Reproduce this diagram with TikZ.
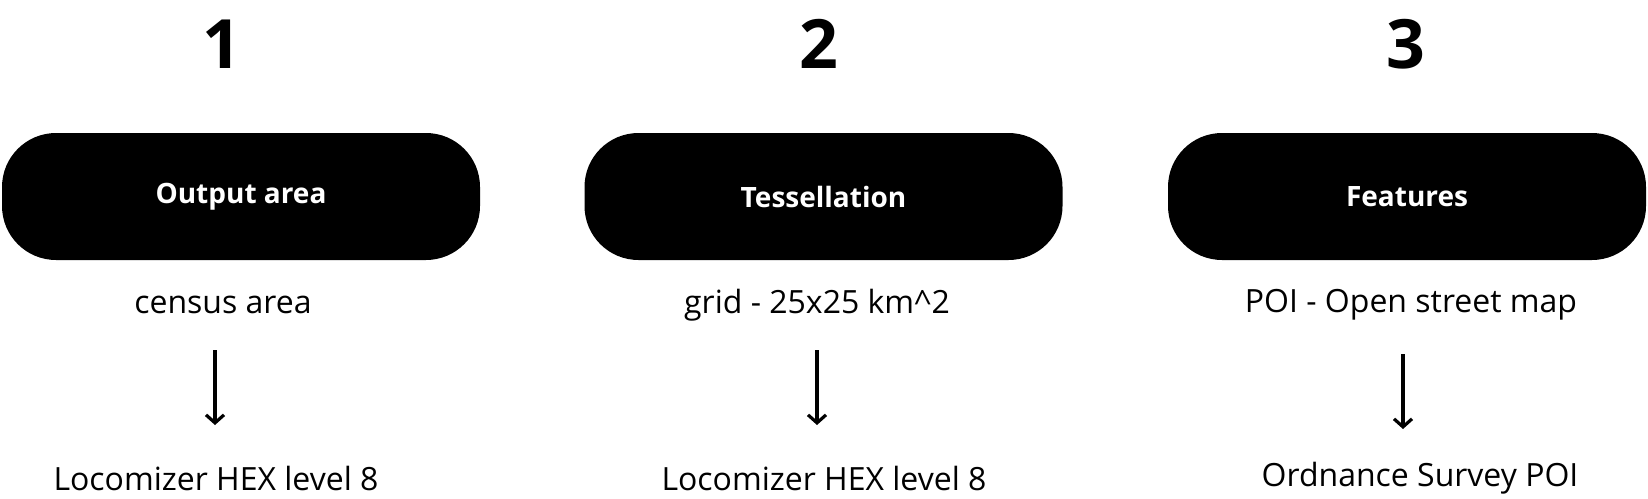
\documentclass[tikz,border=0pt]{standalone}
\usepackage{fontspec}
\setmainfont{Open Sans}
\usetikzlibrary{arrows.meta,positioning}

\tikzset{
  stepnum/.style={font=\fontsize{34}{40}\selectfont\bfseries},
  stagebox/.style={fill=black, rounded corners=27pt, minimum width=239pt,
    minimum height=63.5pt, text=white, font=\fontsize{14}{17}\selectfont\bfseries},
  plain/.style={font=\fontsize{16}{19}\selectfont},
  flow/.style={-{Straight Barb[length=4pt,width=9pt]}, line width=1.6pt},
}

\begin{document}
\begin{tikzpicture}[x=0.5pt,y=-0.5pt]
        \useasboundingbox (0,0) rectangle (1648,498);

        \foreach \i/\nx/\bx/\sx/\dx/\ax/\ay/\title/\src/\dst in {
                1/222/241/223/216/215/350/Output area/census area/Locomizer HEX level 8,
                2/819/823.5/817/824/817/350/Tessellation/grid - 25x25 km\textasciicircum 2/Locomizer HEX level 8,
                3/1406/1407/1411/1420/1403/354/Features/POI - Open street map/Ordnance Survey POI}
        {
                \node[stepnum] (num\i) at (\nx, 44) {\i};
                \node[stagebox] (box\i) at (\bx, 196.5) {\title};
                \node[plain] (src\i) at (\sx, 305) {\src};
                \node[plain] (dst\i) at (\dx, 478) {\dst};
                \coordinate (tail\i) at (\ax, \ay);
                \coordinate (head\i) at (\ax, \ay+75);
                \draw[flow] (tail\i) -- (head\i);
        }
\end{tikzpicture}
\end{document}
